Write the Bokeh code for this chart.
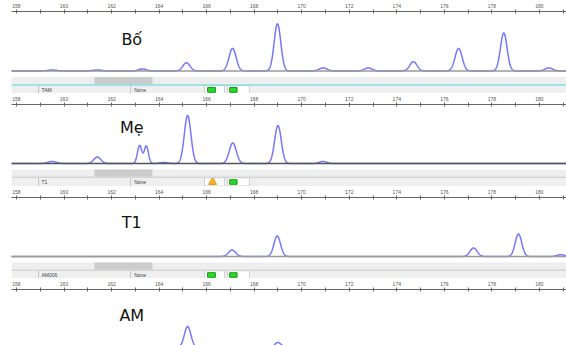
import numpy as np
from bokeh.plotting import figure
from bokeh.layouts import column
from bokeh.models import Range1d, FixedTicker, Label, Span
from bokeh.core.properties import value
from bokeh.embed import file_html
from bokeh.resources import INLINE

# ---- data -------------------------------------------------------------
major_ticks = [158, 160, 162, 164, 166, 168, 170, 172, 174, 176, 178, 180]
minor_ticks = [157, 159, 161, 163, 165, 167, 169, 171, 173, 175, 177, 179, 181]

names = ["Bố", "Mẹ", "T1", "AM"]
dyes = ["TAM", "T1", "AM006"]
status = ["None", "None", "None"]

bo_pos = [159.5, 161.4, 163.3, 165.15, 167.09, 168.98, 170.9, 172.8, 174.7, 176.6, 178.5, 180.4]
bo_h = [100, 100, 200, 800, 2200, 4600, 300, 300, 900, 2200, 3700, 300]
bo_w = [0.18, 0.18, 0.16, 0.15, 0.15, 0.14, 0.16, 0.16, 0.15, 0.15, 0.14, 0.16]

me_pos = [159.5, 161.4, 163.18, 163.46, 164.2, 165.2, 167.1, 169.0, 170.9, 181.6]
me_h = [200, 650, 1800, 1750, 100, 4800, 2050, 3800, 200, 700]
me_w = [0.18, 0.15, 0.09, 0.09, 0.18, 0.14, 0.15, 0.14, 0.16, 0.18]

t1_pos = [167.07, 168.97, 177.23, 179.12, 180.9]
t1_h = [650, 2050, 850, 2250, 180]
t1_w = [0.15, 0.14, 0.15, 0.14, 0.16]

am_pos = [165.2, 169.0]
am_h = [2100, 500]
am_w = [0.14, 0.14]

peaks = [(bo_pos, bo_h, bo_w), (me_pos, me_h, me_w), (t1_pos, t1_h, t1_w), (am_pos, am_h, am_w)]
warn = [False, True, False]

# ---- layout ------------------------------------------------------------
X_START, X_END = 157.79, 181.14
W = 566
A = 11  # axis panel height (px)
tops = [0, 93, 186, 278]
bottoms = [93, 186, 278, 345]
plot_tops = [13, 104, 197, 289]
baselines = [71, 163, 256, 347]
label_y = [40, 127, 222, 315]
PX = 100.0

xs = np.linspace(X_START - 0.5, X_END + 0.5, 1800)

figs = []
for i in range(4):
    y_hi = (baselines[i] - plot_tops[i]) * PX
    y_lo = -(bottoms[i] - baselines[i]) * PX
    p = figure(width=W, height=bottoms[i] - tops[i],
               x_range=Range1d(X_START, X_END), y_range=Range1d(y_lo, y_hi),
               output_backend="svg", toolbar_location=None,
               x_axis_location="above", y_axis_location=None,
               min_border_left=11, min_border_right=0,
               min_border_top=plot_tops[i] - tops[i] - A, min_border_bottom=0)
    p.outline_line_color = None
    p.grid.visible = False
    p.background_fill_color = "white"
    p.border_fill_color = "white"
    ax = p.xaxis[0]
    ax.ticker = FixedTicker(ticks=major_ticks, minor_ticks=minor_ticks)
    ax.major_label_text_font_size = "5px"
    ax.major_label_text_font = "Liberation Sans"
    ax.major_label_text_color = "#555555"
    ax.major_label_standoff = 2
    ax.axis_line_color = "#666666"
    ax.major_tick_line_color = "#666666"
    ax.minor_tick_line_color = "#666666"
    ax.major_tick_in = 2
    ax.major_tick_out = 2
    ax.minor_tick_in = 2
    ax.minor_tick_out = 2

    # lower panel strip (band + info row)
    if i < 3:
        p.quad(left=[X_START], right=[X_END], top=[-600], bottom=[-1330],
               fill_color="#eeeeee", line_color=None)
        p.quad(left=[161.28], right=[163.72], top=[-600], bottom=[-1330],
               fill_color="#cccccc", line_color=None)
        p.quad(left=[X_START], right=[X_END], top=[-1430], bottom=[-2250],
               fill_color="#efefef", line_color=None)
        sep_col = "#7fdde3" if i == 0 else "#d4d4d4"
        p.add_layout(Span(location=-1380, dimension="width", line_color=sep_col, line_width=1.5))
        p.segment(x0=[158.93, 162.8], x1=[158.93, 162.8], y0=[-1430, -1430], y1=[-2250, -2250],
                  line_color="#c4c4c4", line_width=1)
        p.quad(left=[165.91, 166.88], right=[166.75, 167.8], top=[-1430, -1430], bottom=[-2250, -2250],
               fill_color="white", line_color="#d0d0d0")
        if warn[i]:
            p.scatter(x=[166.25], y=[-1860], marker="triangle", size=8,
                      fill_color="#f6b12e", line_color="#e09a10")
        else:
            p.quad(left=[166.04], right=[166.37], top=[-1620], bottom=[-2080],
                   fill_color="#2bd92b", line_color="#139a13")
        p.quad(left=[166.97], right=[167.28], top=[-1620], bottom=[-2080],
               fill_color="#2bd92b", line_color="#139a13")
        p.text(x=[159.05, 162.95], y=[-1840, -1840], text=[dyes[i], status[i]],
               text_font_size="5px", text_font=value("Liberation Sans"),
               text_baseline="middle", text_color="#444444")

    # baseline and trace
    p.add_layout(Span(location=0, dimension="width",
                      line_color="#9a9a9a" if i != 1 else "#555555", line_width=1.5))
    pos, hh, ww = peaks[i]
    ys = np.zeros_like(xs)
    for c, h, s in zip(pos, hh, ww):
        ys += h * np.exp(-0.5 * ((xs - c) / s) ** 2)
    p.line(xs, ys, line_color="#7676ff", line_width=1.5)

    p.add_layout(Label(x=162.85, y=(baselines[i] - label_y[i]) * PX, text=names[i],
                       text_font="DejaVu Sans", text_font_size="16px",
                       text_color="#111111", text_align="center", text_baseline="middle"))
    figs.append(p)

layout = column(*figs, spacing=0)
open("out.html", "w").write(file_html(layout, INLINE))
